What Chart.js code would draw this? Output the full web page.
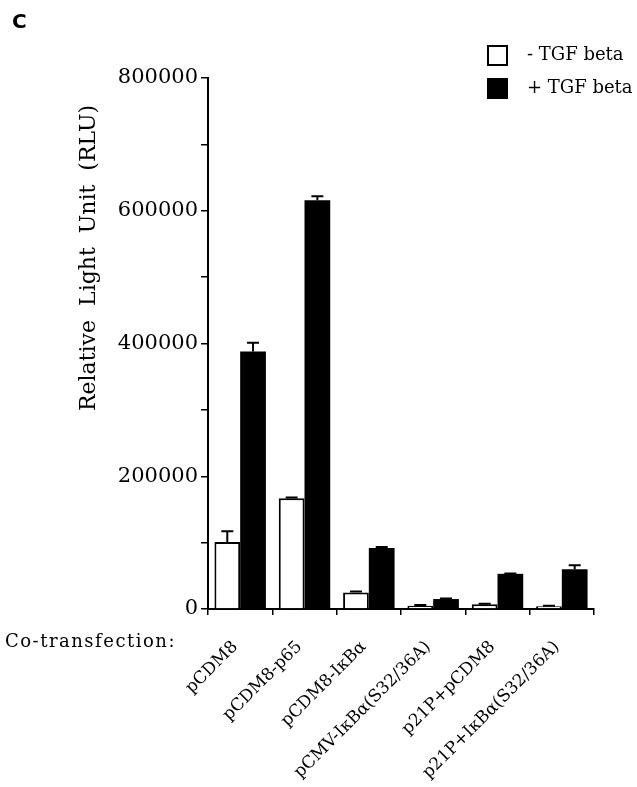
<!DOCTYPE html>
<html>
<head>
<meta charset="utf-8">
<script src="https://cdn.jsdelivr.net/npm/chart.js@4/dist/chart.umd.min.js"></script>
<style>
  html, body { margin: 0; padding: 0; background: #fff; }
  #wrap { width: 637px; height: 787px; }
</style>
</head>
<body>
<div id="wrap"><canvas id="c" width="637" height="787"></canvas></div>
<script>
// Luciferase reporter activity per co-transfected construct
const categories = ['pCDM8', 'pCDM8-p65', 'pCDM8-IκBα', 'pCMV-IκBα(S32/36A)', 'p21P+pCDM8', 'p21P+IκBα(S32/36A)'];
const seriesLabels = ['- TGF beta', '+ TGF beta'];
const minusTGF = [101000, 167000, 25000, 5000, 7000, 4000];
const plusTGF = [388000, 616000, 92000, 15000, 53000, 60000];
const minusTGFErr = [16000, 1000, 1500, 1000, 1000, 1000];
const plusTGFErr = [13000, 6000, 1500, 1000, 500, 6000];
const yMax = 800000;
const yStep = 100000;
const yLabelStep = 200000;

const SERIF = '"DejaVu Serif", serif';

// Upward error bars with a cap, placed through the y scale
const errorBars = {
  id: 'errorBars',
  afterDatasetsDraw(chart) {
    const { ctx, scales: { y } } = chart;
    ctx.save();
    ctx.strokeStyle = '#000';
    ctx.lineWidth = 2;
    chart.data.datasets.forEach((ds, di) => {
      const meta = chart.getDatasetMeta(di);
      meta.data.forEach((bar, i) => {
        const err = ds.errors[i];
        if (!err) return;
        const top = y.getPixelForValue(ds.data[i] + err);
        ctx.beginPath();
        ctx.moveTo(bar.x, bar.y);
        ctx.lineTo(bar.x, top);
        ctx.moveTo(bar.x - 6, top);
        ctx.lineTo(bar.x + 6, top);
        ctx.stroke();
      });
    });
    ctx.restore();
  }
};

// Panel letter, axis titles and the two-row legend
const annotations = {
  id: 'annotations',
  afterDraw(chart) {
    const { ctx, chartArea } = chart;
    ctx.save();
    ctx.fillStyle = '#000';

    ctx.font = 'bold 20px "DejaVu Sans", sans-serif';
    ctx.textAlign = 'left';
    ctx.textBaseline = 'alphabetic';
    ctx.fillText('C', 12, 28);

    ctx.save();
    ctx.translate(89, 258);
    ctx.rotate(-Math.PI / 2);
    ctx.font = '22px ' + SERIF;
    ctx.textAlign = 'center';
    ctx.textBaseline = 'middle';
    ctx.fillText('Relative  Light  Unit  (RLU)', 0, 0);
    ctx.restore();

    ctx.font = '18px ' + SERIF;
    ctx.letterSpacing = '1.5px';
    ctx.textAlign = 'left';
    ctx.textBaseline = 'middle';
    ctx.fillText('Co-transfection:', 5, chartArea.bottom + 33);
    ctx.letterSpacing = '0px';

    ctx.font = '18px ' + SERIF;
    chart.data.datasets.forEach((ds, i) => {
      const cy = 55 + i * 33;
      ctx.fillStyle = ds.backgroundColor;
      ctx.fillRect(488, cy - 9, 19, 19);
      ctx.strokeStyle = '#000';
      ctx.lineWidth = 2;
      ctx.strokeRect(488, cy - 9, 19, 19);
      ctx.fillStyle = '#000';
      ctx.fillText(ds.label, 527, cy);
    });
    ctx.restore();
  }
};

new Chart(document.getElementById('c'), {
  type: 'bar',
  data: {
    labels: categories,
    datasets: [
      {
        label: seriesLabels[0],
        data: minusTGF,
        errors: minusTGFErr,
        backgroundColor: '#ffffff',
        borderColor: '#000000',
        borderWidth: 2
      },
      {
        label: seriesLabels[1],
        data: plusTGF,
        errors: plusTGFErr,
        backgroundColor: '#000000',
        borderColor: '#000000',
        borderWidth: 0
      }
    ]
  },
  options: {
    responsive: false,
    animation: false,
    layout: { padding: { left: 0, right: 43, top: 78, bottom: 0 } },
    categoryPercentage: 0.8,
    barPercentage: 1.0,
    plugins: {
      legend: { display: false },
      tooltip: { enabled: false }
    },
    scales: {
      x: {
        afterFit(scale) { scale.height = 178; },
        grid: {
          offset: true,
          drawOnChartArea: false,
          drawTicks: true,
          tickLength: 6,
          color: '#000',
          lineWidth: 1.5
        },
        border: { display: true, color: '#000', width: 2 },
        ticks: {
          color: '#000',
          font: { family: SERIF, size: 17 },
          maxRotation: 45,
          minRotation: 45,
          padding: 22,
          labelOffset: -5,
          autoSkip: false
        }
      },
      y: {
        min: 0,
        max: yMax,
        afterFit(scale) { scale.width = 208; },
        grid: {
          drawOnChartArea: false,
          drawTicks: true,
          tickLength: 7,
          color: '#000',
          lineWidth: 1.5
        },
        border: { display: true, color: '#000', width: 2 },
        ticks: {
          stepSize: yStep,
          autoSkip: false,
          color: '#000',
          padding: 3,
          font: { family: SERIF, size: 21 },
          callback: (v) => (v % yLabelStep === 0 ? String(v) : '')
        }
      }
    }
  },
  plugins: [errorBars, annotations]
});
</script>
</body>
</html>
